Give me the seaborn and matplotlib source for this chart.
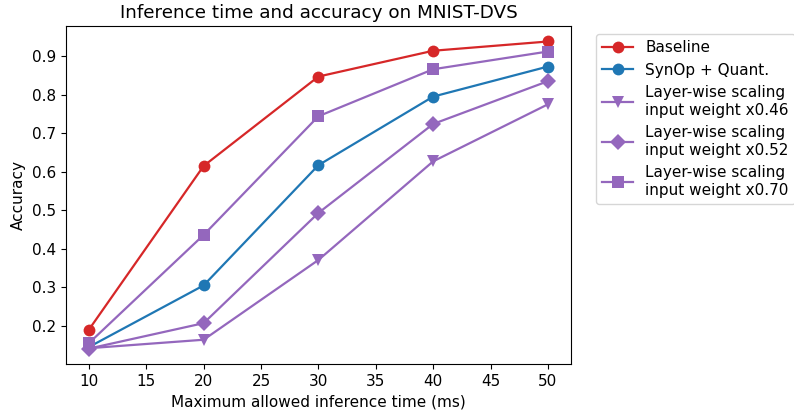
import matplotlib
matplotlib.use('Agg')
import matplotlib.pyplot as plt
import seaborn as sns
import pandas as pd

plt.rcParams['font.family'] = 'DejaVu Sans'
plt.rcParams['font.size'] = 11

# Data
times = [10, 20, 30, 40, 50]
baseline = [0.190, 0.615, 0.847, 0.914, 0.938]
synop_quant = [0.145, 0.305, 0.617, 0.795, 0.873]
lw_046 = [0.142, 0.164, 0.371, 0.627, 0.775]
lw_052 = [0.141, 0.207, 0.493, 0.724, 0.835]
lw_070 = [0.155, 0.436, 0.744, 0.866, 0.912]

labels = ['Baseline', 'SynOp + Quant.',
          'Layer-wise scaling\ninput weight x0.46',
          'Layer-wise scaling\ninput weight x0.52',
          'Layer-wise scaling\ninput weight x0.70']
series = [baseline, synop_quant, lw_046, lw_052, lw_070]

rows = []
for lab, vals in zip(labels, series):
    for t, v in zip(times, vals):
        rows.append({'Time': t, 'Accuracy': v, 'Method': lab})
df = pd.DataFrame(rows)

palette = dict(zip(labels, ['#d62728', '#1f77b4', '#9467bd', '#9467bd', '#9467bd']))
markers = dict(zip(labels, ['o', 'o', 'v', 'D', 's']))

fig, ax = plt.subplots(figsize=(7.94, 4.15), dpi=100)
sns.lineplot(data=df, x='Time', y='Accuracy', hue='Method', style='Method',
             hue_order=labels, style_order=labels, palette=palette,
             markers=markers, dashes=False, markersize=8.5, linewidth=1.6,
             markeredgewidth=0, ax=ax)

ax.set_title('Inference time and accuracy on MNIST-DVS')
ax.set_xlabel('Maximum allowed inference time (ms)')
ax.set_ylabel('Accuracy')
ax.set_xticks([10, 15, 20, 25, 30, 35, 40, 45, 50])
ax.legend(loc='upper left', bbox_to_anchor=(1.035, 1.0))

plt.subplots_adjust(left=0.083, right=0.719, top=0.937, bottom=0.123)
plt.savefig('out.png', dpi=100)
plt.close()
